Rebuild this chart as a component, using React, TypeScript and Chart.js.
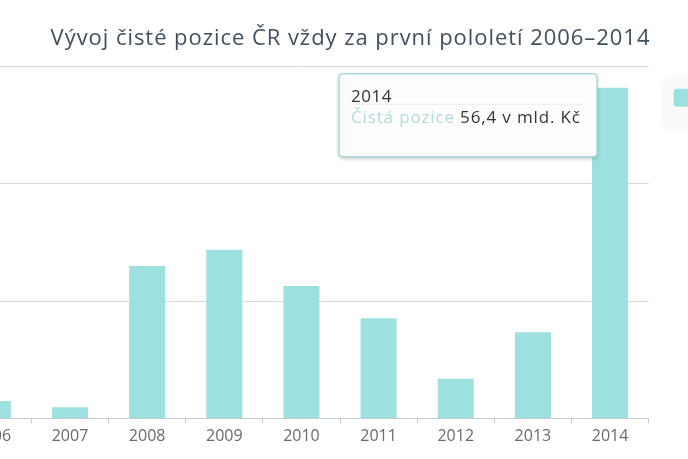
import React, { useEffect, useRef } from "react";
import { Chart, registerables } from "chart.js";

Chart.register(...registerables);

const categories = ["2006", "2007", "2008", "2009", "2010", "2011", "2012", "2013", "2014"];
const cistaPozice = [3.0, 1.9, 26.0, 28.8, 22.6, 17.1, 6.8, 14.7, 56.4];
const yTicks = [0, 20, 40, 60];
const seriesName = "Čistá pozice";
const unit = "v mld. Kč";
const titleText = "Vývoj čisté pozice ČR vždy za první pololetí 2006–2014";
const tooltipIndex = 8;

const FONT = '"Open Sans", "DejaVu Sans", sans-serif';
const BAR = "#9de0e0";
const SHIFT = 100; // canvas is shifted left (chart is cropped in the reference)
const CW = 788;
const CH = 459;

function roundRect(ctx: CanvasRenderingContext2D, x: number, y: number, w: number, h: number, r: number) {
  ctx.beginPath();
  ctx.moveTo(x + r, y);
  ctx.lineTo(x + w - r, y);
  ctx.quadraticCurveTo(x + w, y, x + w, y + r);
  ctx.lineTo(x + w, y + h - r);
  ctx.quadraticCurveTo(x + w, y + h, x + w - r, y + h);
  ctx.lineTo(x + r, y + h);
  ctx.quadraticCurveTo(x, y + h, x, y + h - r);
  ctx.lineTo(x, y + r);
  ctx.quadraticCurveTo(x, y, x + r, y);
  ctx.closePath();
}

const titlePlugin = {
  id: "customTitle",
  afterDraw(chart: any) {
    const ctx = chart.ctx as any;
    ctx.save();
    ctx.font = `22px ${FONT}`;
    ctx.letterSpacing = "0.95px";
    ctx.fillStyle = "#3f5060";
    ctx.textAlign = "center";
    ctx.textBaseline = "alphabetic";
    ctx.fillText(titleText, SHIFT + 350.5, 45);
    ctx.restore();
  },
};

const legendPlugin = {
  id: "customLegend",
  afterDraw(chart: any) {
    const ctx = chart.ctx as CanvasRenderingContext2D;
    const a = chart.chartArea;
    const x = a.right + 14;
    const y = a.top + 11;
    ctx.save();
    ctx.shadowColor = "rgba(0,0,0,0.06)";
    ctx.shadowBlur = 4;
    roundRect(ctx, x, y, 140, 52, 5);
    ctx.fillStyle = "#fafafa";
    ctx.fill();
    ctx.shadowColor = "transparent";
    roundRect(ctx, x + 11, y + 11, 20, 18, 3);
    ctx.fillStyle = BAR;
    ctx.fill();
    ctx.font = `15px ${FONT}`;
    ctx.fillStyle = "#555";
    ctx.textBaseline = "middle";
    ctx.fillText(seriesName, x + 38, y + 20);
    ctx.restore();
  },
};

const tooltipPlugin = {
  id: "fixedTooltip",
  afterDraw(chart: any) {
    const el = chart.getDatasetMeta(0).data[tooltipIndex];
    if (!el) return;
    const ctx = chart.ctx as any;
    const w = 258;
    const h = 83;
    const right = el.x - 13;
    const left = right - w;
    const top = el.y - 14;
    ctx.save();
    ctx.shadowColor = "rgba(0,0,0,0.28)";
    ctx.shadowBlur = 4;
    ctx.shadowOffsetX = 0;
    ctx.shadowOffsetY = 1.5;
    roundRect(ctx, left, top, w, h, 4);
    ctx.fillStyle = "rgba(255,255,255,0.97)";
    ctx.fill();
    ctx.shadowColor = "transparent";
    ctx.lineWidth = 1.5;
    ctx.strokeStyle = "#a9d9d9";
    ctx.stroke();

    ctx.font = `17px ${FONT}`;
    ctx.letterSpacing = "0.5px";
    ctx.textBaseline = "alphabetic";
    ctx.textAlign = "left";
    ctx.fillStyle = "#333";
    ctx.fillText(categories[tooltipIndex], left + 12, top + 28);

    ctx.beginPath();
    ctx.moveTo(left + 12, top + 30.5);
    ctx.lineTo(right - 15, top + 30.5);
    ctx.lineWidth = 1;
    ctx.strokeStyle = "#ececec";
    ctx.stroke();

    ctx.letterSpacing = "0.85px";
    const label = seriesName;
    ctx.fillStyle = "#b0dcdc";
    ctx.fillText(label, left + 12, top + 49.5);
    const lw = ctx.measureText(label + " ").width;
    ctx.fillStyle = "#333";
    const v = cistaPozice[tooltipIndex].toFixed(1).replace(".", ",");
    ctx.fillText(`${v} ${unit}`, left + 12 + lw, top + 49.5);
    ctx.restore();
  },
};

export default function App() {
  const ref = useRef<HTMLCanvasElement | null>(null);

  useEffect(() => {
    if (!ref.current) return;
    const chart = new Chart(ref.current, {
      type: "bar",
      data: {
        labels: categories,
        datasets: [
          {
            label: seriesName,
            data: cistaPozice,
            backgroundColor: BAR,
            borderWidth: 0,
            barPercentage: 0.467,
            categoryPercentage: 1,
          },
        ],
      },
      options: {
        responsive: false,
        animation: false,
        devicePixelRatio: 1,
        layout: { padding: { left: SHIFT - 45.7, right: CW - (SHIFT + 648.6), top: 66.7, bottom: 0 } },
        plugins: {
          legend: { display: false },
          title: { display: false },
          tooltip: { enabled: false },
        },
        scales: {
          x: {
            offset: true,
            afterFit: (s: any) => {
              s.height = CH - 418.5;
            },
            grid: {
              offset: true,
              drawOnChartArea: false,
              drawTicks: true,
              tickLength: 5,
              tickColor: "#c4ccd4",
            },
            border: { display: true, color: "#c4ccd4", width: 1 },
            ticks: {
              color: "#6a6a6a",
              font: { family: FONT, size: 16 },
              padding: 3,
              maxRotation: 0,
              autoSkip: false,
            },
          },
          y: {
            min: yTicks[0],
            max: yTicks[yTicks.length - 1],
            afterFit: (s: any) => {
              s.width = 0;
            },
            afterBuildTicks: (s: any) => {
              s.ticks = yTicks.map((v) => ({ value: v }));
            },
            ticks: { display: false },
            grid: { color: "#d9d9d9", lineWidth: 1, drawTicks: false },
            border: { display: false },
          },
        },
      },
      plugins: [titlePlugin, legendPlugin, tooltipPlugin],
    });
    return () => chart.destroy();
  }, []);

  return (
    <div
      style={{
        position: "fixed",
        left: 0,
        top: 0,
        width: 688,
        height: 459,
        overflow: "hidden",
        background: "#fff",
      }}
    >
      <canvas
        ref={ref}
        width={CW}
        height={CH}
        style={{ position: "absolute", left: -SHIFT, top: 0, width: CW, height: CH }}
      />
    </div>
  );
}
